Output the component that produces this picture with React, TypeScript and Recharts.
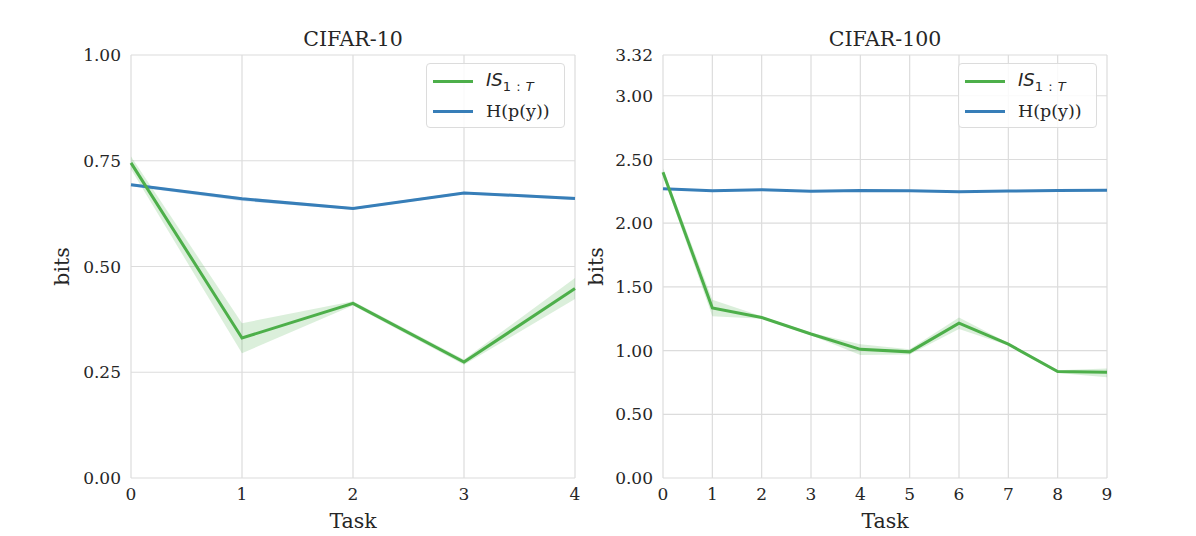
import React from 'react';
import { ComposedChart, Line, Area, XAxis, YAxis, CartesianGrid } from 'recharts';

const GREEN = '#4daf4a';
const BLUE = '#377eb8';
const FONT = '"DejaVu Serif", serif';

// CIFAR-10
const c10Tasks = [0, 1, 2, 3, 4];
const c10IS = [0.745, 0.331, 0.413, 0.274, 0.448];
const c10ISLo = [0.73, 0.295, 0.408, 0.268, 0.423];
const c10ISHi = [0.76, 0.366, 0.418, 0.28, 0.473];
const c10H = [0.693, 0.66, 0.637, 0.674, 0.661];
const c10HLo = [0.69, 0.655, 0.634, 0.671, 0.657];
const c10HHi = [0.696, 0.664, 0.64, 0.677, 0.665];
const c10YTicks = [0, 0.25, 0.5, 0.75, 1.0];

// CIFAR-100
const c100Tasks = [0, 1, 2, 3, 4, 5, 6, 7, 8, 9];
const c100IS = [2.4, 1.335, 1.26, 1.13, 1.01, 0.99, 1.215, 1.05, 0.835, 0.83];
const c100ISLo = [2.37, 1.27, 1.25, 1.12, 0.965, 0.97, 1.17, 1.04, 0.825, 0.79];
const c100ISHi = [2.43, 1.4, 1.27, 1.14, 1.05, 1.01, 1.26, 1.06, 0.845, 0.86];
const c100H = [2.27, 2.255, 2.262, 2.25, 2.257, 2.254, 2.247, 2.252, 2.256, 2.258];
const c100HLo = [2.264, 2.249, 2.256, 2.244, 2.251, 2.248, 2.241, 2.246, 2.25, 2.252];
const c100HHi = [2.276, 2.261, 2.268, 2.256, 2.263, 2.26, 2.253, 2.258, 2.262, 2.264];
const c100YTicks = [0, 0.5, 1.0, 1.5, 2.0, 2.5, 3.0, 3.32];

function buildRows(tasks, is, isLo, isHi, h, hLo, hHi) {
  return tasks.map((t, i) => ({
    task: t,
    is: is[i],
    isBand: [isLo[i], isHi[i]],
    h: h[i],
    hBand: [hLo[i], hHi[i]],
  }));
}

function LegendBox({ left, top }) {
  const row = { display: 'flex', alignItems: 'center', height: 30 };
  const swatch = (c) => ({ width: 40, height: 3, background: c, marginRight: 13, marginLeft: 6 });
  return (
    <div
      style={{
        position: 'absolute', left, top, width: 139, height: 65,
        border: '1px solid #dcdcdc', borderRadius: 4, background: 'rgba(255,255,255,0.85)',
        boxSizing: 'border-box', paddingTop: 2, color: '#262626',
      }}
    >
      <div style={row}>
        <div style={swatch(GREEN)} />
        <span style={{ fontFamily: '"DejaVu Sans", sans-serif', fontStyle: 'italic', fontSize: 18 }}>
          IS
          <sub style={{ fontSize: 13, fontStyle: 'normal', letterSpacing: 0.5 }}>
            1 : <i>T</i>
          </sub>
        </span>
      </div>
      <div style={row}>
        <div style={swatch(BLUE)} />
        <span style={{ fontFamily: FONT, fontSize: 17.5 }}>H(p(y))</span>
      </div>
    </div>
  );
}

function Panel({ left, width, yAxisW, rightM, rows, xMax, yMax, yTicks, title, bitsDx }) {
  const xTicks = [];
  for (let i = 0; i <= xMax; i++) xTicks.push(i);
  const tickStyle = { fontFamily: FONT, fontSize: 17, fill: '#262626' };
  return (
    <div style={{ position: 'absolute', left, top: 0, width, height: 536 }}>
      <div
        style={{
          position: 'absolute', left: yAxisW, width: width - yAxisW - rightM, top: 27,
          textAlign: 'center', fontFamily: FONT, fontSize: 20.5, color: '#262626',
        }}
      >
        {title}
      </div>
      <ComposedChart width={width} height={536} data={rows} margin={{ top: 55, right: rightM, left: 0, bottom: 0 }}>
        <CartesianGrid stroke="#dcdcdc" strokeWidth={1.2} />
        <XAxis
          dataKey="task" type="number" domain={[0, xMax]} ticks={xTicks} interval={0}
          axisLine={false} tickLine={false} tick={tickStyle} tickMargin={4} height={58}
          label={{ value: 'Task', position: 'insideBottom', offset: 8, style: { fontFamily: FONT, fontSize: 20.5, fill: '#262626' } }}
        />
        <YAxis
          type="number" domain={[0, yMax]} ticks={yTicks} interval={0} width={yAxisW}
          axisLine={false} tickLine={false} tick={tickStyle} tickMargin={4} tickFormatter={(v) => v.toFixed(2)}
          label={{ value: 'bits', angle: -90, position: 'center', dx: bitsDx, style: { fontFamily: FONT, fontSize: 20.5, fill: '#262626' } }}
        />
        <Area dataKey="hBand" type="linear" stroke="none" fill={BLUE} fillOpacity={0.2} isAnimationActive={false} />
        <Area dataKey="isBand" type="linear" stroke="none" fill={GREEN} fillOpacity={0.2} isAnimationActive={false} />
        <Line dataKey="h" type="linear" stroke={BLUE} strokeWidth={3} dot={false} isAnimationActive={false} />
        <Line dataKey="is" type="linear" stroke={GREEN} strokeWidth={3} dot={false} isAnimationActive={false} />
      </ComposedChart>
    </div>
  );
}

export default function App() {
  const rows10 = buildRows(c10Tasks, c10IS, c10ISLo, c10ISHi, c10H, c10HLo, c10HHi);
  const rows100 = buildRows(c100Tasks, c100IS, c100ISLo, c100ISHi, c100H, c100HLo, c100HHi);
  return (
    <div style={{ position: 'absolute', left: 0, top: 0, width: 1196, height: 536, background: '#fff' }}>
      <Panel
        left={0} width={598} yAxisW={131} rightM={23} rows={rows10} xMax={4} yMax={1}
        yTicks={c10YTicks} title="CIFAR-10" bitsDx={-4}
      />
      <Panel
        left={560} width={636} yAxisW={103} rightM={89} rows={rows100} xMax={9} yMax={3.32}
        yTicks={c100YTicks} title="CIFAR-100" bitsDx={-16}
      />
      <LegendBox left={426} top={63} />
      <LegendBox left={958} top={63} />
    </div>
  );
}
